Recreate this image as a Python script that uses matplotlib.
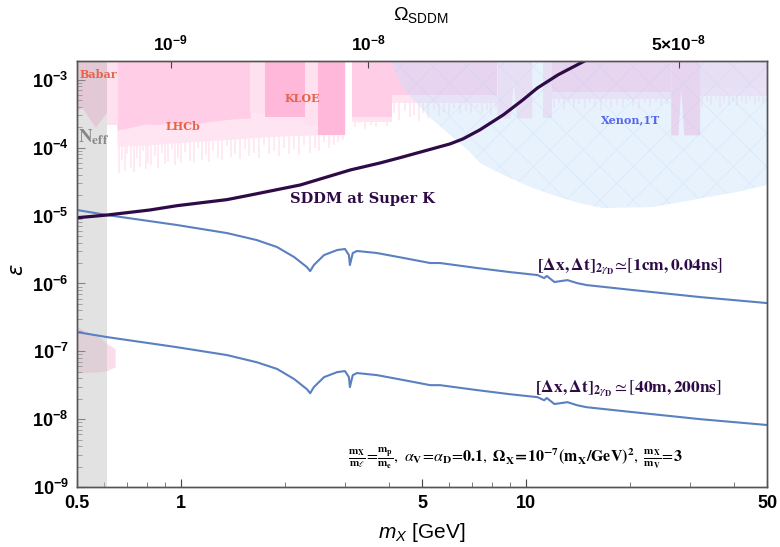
import matplotlib
matplotlib.use("Agg")
import matplotlib.pyplot as plt
from matplotlib.ticker import LogLocator, NullFormatter, NullLocator

plt.rcParams['mathtext.fontset'] = 'custom'
plt.rcParams['mathtext.rm'] = 'Liberation Sans'
plt.rcParams['mathtext.bf'] = 'Liberation Sans:bold'
plt.rcParams['mathtext.it'] = 'Liberation Sans:italic'
plt.rcParams['hatch.linewidth'] = 0.5

# ---------------- data ----------------
x_ticks = [0.5, 1, 5, 10, 50]
x_ticklabels = ['0.5', '1', '5', '10', '50']
y_ticks = [1e-9, 1e-8, 1e-7, 1e-6, 1e-5, 1e-4, 1e-3]
y_ticklabels = [r'$\mathbf{10^{-9}}$', r'$\mathbf{10^{-8}}$', r'$\mathbf{10^{-7}}$', r'$\mathbf{10^{-6}}$',
                r'$\mathbf{10^{-5}}$', r'$\mathbf{10^{-4}}$', r'$\mathbf{10^{-3}}$']
top_ticks_m = [0.935, 3.49, 27.7]
top_ticklabels = [r'$\mathbf{10^{-9}}$', r'$\mathbf{10^{-8}}$', r'$\mathbf{5{\times}10^{-8}}$']

# SDDM at Super K
sddm_m = [0.5, 0.611, 0.813, 0.974, 1.36, 1.59, 2.22, 3.10, 3.78, 4.30, 6.03, 6.57, 7.35, 8.6, 9.8, 10.8, 12.4, 15.0]
sddm_eps = [9.3e-6, 1.02e-5, 1.21e-5, 1.40e-5, 1.72e-5, 2.01e-5, 2.83e-5, 4.71e-5, 5.97e-5, 7.1e-5,
            1.14e-4, 1.35e-4, 1.83e-4, 3.05e-4, 5.07e-4, 7.6e-4, 1.19e-3, 1.97e-3]

# sensitivity lines
sens_m = [0.5, 0.611, 0.974, 1.36, 1.66, 1.90, 2.13, 2.32, 2.37, 2.43, 2.60, 2.84, 2.99, 3.07, 3.09, 3.15,
          3.24, 3.70, 4.43, 5.28, 5.64, 7.22, 9.0, 10.8, 11.3, 11.5, 12.1, 13.2, 14.1, 15.0, 20.4, 32.0, 50.0]
sens_1cm = [1.21e-5, 1.02e-5, 7.27e-6, 5.53e-6, 4.36e-6, 3.44e-6, 2.45e-6, 1.74e-6, 1.52e-6, 1.87e-6,
            2.62e-6, 3.11e-6, 3.22e-6, 2.62e-6, 1.87e-6, 2.81e-6, 3.01e-6, 2.81e-6, 2.37e-6, 2.00e-6,
            2.00e-6, 1.69e-6, 1.47e-6, 1.33e-6, 1.20e-6, 1.29e-6, 1.05e-6, 1.12e-6, 1.01e-6, 9.47e-7,
            8.0e-7, 6.3e-7, 5.14e-7]
sens_40m = [1.92e-7, 1.62e-7, 1.15e-7, 8.8e-8, 6.9e-8, 5.5e-8, 3.9e-8, 2.76e-8, 2.41e-8, 2.97e-8,
            4.16e-8, 4.94e-8, 5.11e-8, 4.16e-8, 2.97e-8, 4.46e-8, 4.78e-8, 4.46e-8, 3.76e-8, 3.17e-8,
            3.17e-8, 2.68e-8, 2.33e-8, 2.11e-8, 1.90e-8, 2.05e-8, 1.67e-8, 1.78e-8, 1.60e-8, 1.50e-8,
            1.27e-8, 1.0e-8, 8.2e-9]

# Babar exclusion (lower edge)
babar_m = [0.50, 0.517, 0.565, 0.611]
babar_eps = [3.6e-4, 3.9e-4, 2.0e-4, 3.4e-4]

# LHCb solid exclusion (lower edge)
lhcb_m = [0.653, 0.703, 0.787, 0.84, 0.95, 1.05, 1.26, 1.40, 1.59]
lhcb_eps = [1.83e-4, 1.96e-4, 2.25e-4, 2.2e-4, 2.3e-4, 2.2e-4, 2.5e-4, 2.65e-4, 2.75e-4]

# LHCb fringe: light base and downward spikes
lhcb_base_m = [0.653, 0.8, 1.0, 1.3, 1.6, 2.0, 2.5, 2.99]
lhcb_base_eps = [1.05e-4, 1.1e-4, 1.2e-4, 1.3e-4, 1.4e-4, 1.5e-4, 1.55e-4, 1.55e-4]
lhcb_spk_m = [0.66, 0.675, 0.69, 0.70, 0.715, 0.73, 0.745, 0.76, 0.775, 0.79, 0.805, 0.82, 0.84, 0.86,
              0.88, 0.90, 0.92, 0.94, 0.96, 0.98, 1.00, 1.03, 1.06, 1.09, 1.12, 1.15, 1.18, 1.21, 1.24,
              1.28, 1.32, 1.36, 1.40, 1.44, 1.48, 1.53, 1.58, 1.63, 1.68, 1.74, 1.80, 1.86, 1.92, 1.99,
              2.06, 2.13, 2.20, 2.28, 2.36, 2.44, 2.52, 2.60, 2.68, 2.77, 2.86, 2.95]
lhcb_spk_eps = [4.2e-5, 6.5e-5, 4.6e-5, 8.0e-5, 5.0e-5, 4.4e-5, 7.0e-5, 5.2e-5, 9.0e-5, 4.8e-5, 6.0e-5,
                5.5e-5, 7.5e-5, 5.0e-5, 8.5e-5, 5.8e-5, 6.2e-5, 9.5e-5, 5.6e-5, 7.0e-5, 6.0e-5, 8.8e-5,
                6.4e-5, 5.9e-5, 1.0e-4, 6.6e-5, 7.8e-5, 6.2e-5, 9.0e-5, 7.0e-5, 6.5e-5, 1.05e-4, 7.2e-5,
                8.0e-5, 6.8e-5, 9.5e-5, 7.5e-5, 8.5e-5, 7.0e-5, 1.1e-4, 8.0e-5, 9.0e-5, 7.6e-5, 1.0e-4,
                8.2e-5, 9.5e-5, 7.8e-5, 1.1e-4, 8.5e-5, 1.0e-4, 9.0e-5, 1.2e-4, 1.0e-4, 1.1e-4, 1.2e-4,
                1.3e-4]

# other fringes (base fill edges and spike tips)
base_lo = [3.13, 4.10, 11.9, 31.9]
base_hi = [4.10, 8.25, 26.3, 50.0]
base_eps = [2.4e-4, 4.6e-4, 5.2e-4, 5.8e-4]
spk2_m = [3.2, 3.3, 3.42, 3.55, 3.68, 3.8, 3.95, 4.15, 4.3, 4.45, 4.6, 4.75, 4.9, 5.05, 5.2, 5.4, 5.6,
          5.8, 6.0, 6.2, 6.45, 6.7, 6.95, 7.2, 7.45, 7.7, 7.95, 8.2]
spk2_eps = [2.0e-4, 2.3e-4, 1.9e-4, 2.2e-4, 2.0e-4, 2.4e-4, 2.1e-4, 3.2e-4, 2.6e-4, 3.5e-4, 2.8e-4,
            3.0e-4, 2.5e-4, 3.3e-4, 2.7e-4, 3.6e-4, 2.9e-4, 3.4e-4, 3.0e-4, 3.8e-4, 3.1e-4, 3.5e-4,
            3.2e-4, 3.9e-4, 3.3e-4, 3.6e-4, 3.0e-4, 3.8e-4]
spk3_m = [12.1, 12.5, 12.9, 13.3, 13.8, 14.3, 14.8, 15.3, 15.9, 16.5, 17.1, 17.7, 18.4, 19.1, 19.8,
          20.5, 21.3, 22.1, 22.9, 23.8, 24.7, 25.6]
spk3_eps = [3.8e-4, 4.5e-4, 3.6e-4, 4.8e-4, 3.9e-4, 4.4e-4, 3.7e-4, 4.6e-4, 4.0e-4, 3.5e-4, 4.7e-4,
            3.8e-4, 4.3e-4, 3.9e-4, 4.9e-4, 4.1e-4, 3.7e-4, 4.5e-4, 4.0e-4, 4.8e-4, 4.2e-4, 4.4e-4]
spk4_m = [32.5, 33.5, 34.5, 35.5, 36.5, 37.6, 38.7, 39.8, 41.0, 42.2, 43.4, 44.7, 46.0, 47.3, 48.7]
spk4_eps = [4.0e-4, 4.8e-4, 4.2e-4, 5.2e-4, 3.9e-4, 4.6e-4, 4.3e-4, 5.0e-4, 4.1e-4, 4.7e-4, 4.4e-4,
            5.1e-4, 4.2e-4, 4.8e-4, 4.5e-4]

# block exclusions (lower edge) with shade
blk_lo = [0.611, 1.59, 1.75, 2.29, 2.50, 3.13, 4.10, 11.2, 11.9, 31.9]
blk_hi = [0.653, 1.75, 2.29, 2.50, 2.99, 4.10, 8.25, 11.9, 26.3, 50.0]
blk_eps = [2.2e-4, 3.3e-4, 2.85e-4, 2.2e-4, 1.55e-4, 2.85e-4, 6.0e-4, 2.75e-4, 6.7e-4, 7.6e-4]
blk_shade = ['light', 'light', 'dark', 'light', 'dark', 'medium', 'medium', 'light', 'medium', 'light']

# notched exclusions
notch1_m = [8.25, 9.0, 9.2, 9.4, 10.4]
notch1_eps = [2.75e-4, 2.75e-4, 9.3e-4, 2.75e-4, 2.75e-4]
notch2_m = [26.3, 27.6, 28.1, 28.7, 31.9]
notch2_eps = [1.55e-4, 1.55e-4, 7.6e-4, 1.55e-4, 1.55e-4]

# low-mass pink patch near 1e-7
patch_m = [0.5, 0.583, 0.611, 0.645]
patch_top = [2.3e-7, 1.6e-7, 1.3e-7, 1.1e-7]
patch_bot = [4.8e-8, 5.0e-8, 5.2e-8, 5.9e-8]

# Xenon 1T (lower edge)
xenon_m = [4.04, 4.40, 5.28, 6.03, 6.88, 7.35, 8.59, 10.3, 12.0, 14.3, 16.7, 23.4, 32.6, 40.9, 50.0]
xenon_eps = [1.9e-3, 7.6e-4, 2.75e-4, 1.55e-4, 8.7e-5, 6.0e-5, 4.0e-5, 2.64e-5, 2.0e-5, 1.53e-5,
             1.29e-5, 1.34e-5, 1.82e-5, 2.23e-5, 2.83e-5]

neff_m = [0.5, 0.611]

XMIN, XMAX = 0.5, 50.0
YMIN, YMAX = 1e-9, 1.9e-3

# ---------------- figure ----------------
shades = {'light': '#FFE0EF', 'medium': '#FFCDE6', 'dark': '#FFB8DA'}
fr_col = '#FFE4F1'
fig = plt.figure(figsize=(7.8, 5.47), dpi=100)
ax = fig.add_axes([77/780, 1-487/547, 690/780, 426/547])
ax.set_xscale('log')
ax.set_yscale('log')
ax.set_xlim(XMIN, XMAX)
ax.set_ylim(YMIN, YMAX)

# fringes
ax.fill_between(lhcb_base_m, lhcb_base_eps, YMAX, color=fr_col, lw=0, zorder=1)
ax.vlines(lhcb_spk_m, lhcb_spk_eps, 1.6e-4, color=fr_col, lw=1.1, zorder=1)
for lo, hi, e in zip(base_lo, base_hi, base_eps):
    ax.fill_between([lo, hi], [e, e], YMAX, color=fr_col, lw=0, zorder=1)
ax.vlines(spk2_m, spk2_eps, 4.7e-4, color=fr_col, lw=1.1, zorder=1)
ax.vlines(spk3_m, spk3_eps, 5.3e-4, color=fr_col, lw=1.1, zorder=1)
ax.vlines(spk4_m, spk4_eps, 5.9e-4, color=fr_col, lw=1.1, zorder=1)

# solid exclusions
ax.fill_between(babar_m, babar_eps, YMAX, color=shades['medium'], lw=0, zorder=1.2)
ax.fill_between(lhcb_m, lhcb_eps, YMAX, color=shades['medium'], lw=0, zorder=1.2)
for lo, hi, e, s in zip(blk_lo, blk_hi, blk_eps, blk_shade):
    ax.fill_between([lo, hi], [e, e], YMAX, color=shades[s], lw=0, zorder=1.2)
ax.fill_between(notch1_m, notch1_eps, YMAX, color=shades['light'], lw=0, zorder=1.2)
ax.fill_between(notch2_m, notch2_eps, YMAX, color=shades['medium'], lw=0, zorder=1.2)
ax.fill_between(patch_m, patch_bot, patch_top, color='#FADCEB', lw=0, zorder=1.2)

# Xenon 1T
ax.fill_between(xenon_m, xenon_eps, YMAX, facecolor=(0.776, 0.882, 0.988, 0.42),
                edgecolor=(0.55, 0.72, 0.93, 0.16), hatch='x', lw=0, zorder=2)

# N_eff band
ax.axvspan(neff_m[0], neff_m[1], color='#C6C6C6', alpha=0.5, lw=0, zorder=3)

blue = '#5B80BF'
ax.plot(sens_m, sens_1cm, color=blue, lw=1.5, zorder=4)
ax.plot(sens_m, sens_40m, color=blue, lw=1.5, zorder=4)
ax.plot(sddm_m, sddm_eps, color='#2E0B46', lw=2.3, zorder=5, solid_capstyle='round')

# ticks
ax.set_xticks(x_ticks, labels=x_ticklabels)
ax.xaxis.set_minor_locator(LogLocator(base=10, subs=range(2, 10)))
ax.xaxis.set_minor_formatter(NullFormatter())
ax.set_yticks(y_ticks, labels=y_ticklabels)
ax.yaxis.set_minor_locator(LogLocator(base=10, subs=range(2, 10), numticks=20))
ax.yaxis.set_minor_formatter(NullFormatter())
for lab in ax.get_xticklabels():
    lab.set_fontfamily('Liberation Sans')
    lab.set_fontweight('bold')
ax.tick_params(axis='both', which='major', direction='in', length=6, width=0.8, color='#444444',
               labelsize=13, pad=6)
ax.tick_params(axis='both', which='minor', direction='in', length=3.5, width=0.6, color='#666666')
ax.tick_params(axis='y', which='both', right=False)
ax.tick_params(axis='x', which='both', top=False)

ax2 = ax.twiny()
ax2.set_xscale('log')
ax2.set_xlim(XMIN, XMAX)
ax2.set_xticks(top_ticks_m, labels=top_ticklabels)
ax2.xaxis.set_minor_locator(NullLocator())
ax2.tick_params(axis='x', which='major', direction='in', length=5, width=0.8, color='#444444',
                labelsize=12.5, pad=5)

for a in (ax, ax2):
    for sp in a.spines.values():
        sp.set_color('#555555')
        sp.set_linewidth(1.0)
        sp.set_zorder(6)

# axis labels
fig.text(422/780, 1-533/547, r'$m_X$ [GeV]', ha='center', va='center', fontsize=15,
         family='Liberation Sans')
fig.text(17/780, 1-270/547, r'$\epsilon$', ha='center', va='center', fontsize=15, rotation=90,
         math_fontfamily='dejavusans')
fig.text(421/780, 1-15/547, r'$\Omega_{\mathrm{SDDM}}$', ha='center', va='center', fontsize=14,
         family='Liberation Sans')

# annotations
orange = '#E6634A'
serif = 'DejaVu Serif'
T = ax.transAxes
ax.text((80-77)/690, (487-74)/426, 'Babar', transform=T, ha='left', va='center', fontsize=8,
        color=orange, family=serif, weight='bold', zorder=7)
ax.text((183-77)/690, (487-127)/426, 'LHCb', transform=T, ha='center', va='center', fontsize=8,
        color=orange, family=serif, weight='bold', zorder=7)
ax.text((302-77)/690, (487-99)/426, 'KLOE', transform=T, ha='center', va='center', fontsize=8,
        color=orange, family=serif, weight='bold', zorder=7)
ax.text((631-77)/690, (487-120)/426, 'Xenon,1T', transform=T, ha='center', va='center', fontsize=8,
        color='#5566EE', family=serif, weight='bold', zorder=7)
ax.text((78-77)/690, (487-137)/426, r'$\mathbf{N_{eff}}$', transform=T, ha='left', va='center',
        fontsize=13.5, color='#888888', math_fontfamily='stix', zorder=7)
purple = '#2E0B46'
ax.text((362-77)/690, (487-199)/426, 'SDDM at Super K', transform=T, ha='center', va='center',
        fontsize=10.5, color=purple, family=serif, weight='bold', zorder=7)
ax.text((537-77)/690, (487-266)/426,
        r'$\mathbf{[\Delta x,\Delta t]}_{\mathbf{2}\gamma_{\mathbf{D}}}\!\simeq\![\mathbf{1cm,0.04ns}]$',
        transform=T, ha='left', va='center', fontsize=12.5, color=purple, math_fontfamily='stix', zorder=7)
ax.text((535-77)/690, (487-388)/426,
        r'$\mathbf{[\Delta x,\Delta t]}_{\mathbf{2}\gamma_{\mathbf{D}}}\simeq[\mathbf{40m,200ns}]$',
        transform=T, ha='left', va='center', fontsize=12.5, color=purple, math_fontfamily='stix', zorder=7)
ax.text((515-77)/690, (487-458)/426,
        r'$\frac{\mathbf{m_X}}{\mathbf{m}_\ell}\!=\!\frac{\mathbf{m_p}}{\mathbf{m_e}},\ \alpha_{\mathbf{V}}\!=\!\alpha_{\mathbf{D}}\!=\!\mathbf{0.1},\ \mathbf{\Omega_X\!=\!10^{-7}(m_X/GeV)^2},\ \frac{\mathbf{m_X}}{\mathbf{m_V}}\!=\!\mathbf{3}$',
        transform=T, ha='center', va='center', fontsize=11.5, color='black', math_fontfamily='stix',
        zorder=7)

fig.savefig('out.png', dpi=100)
